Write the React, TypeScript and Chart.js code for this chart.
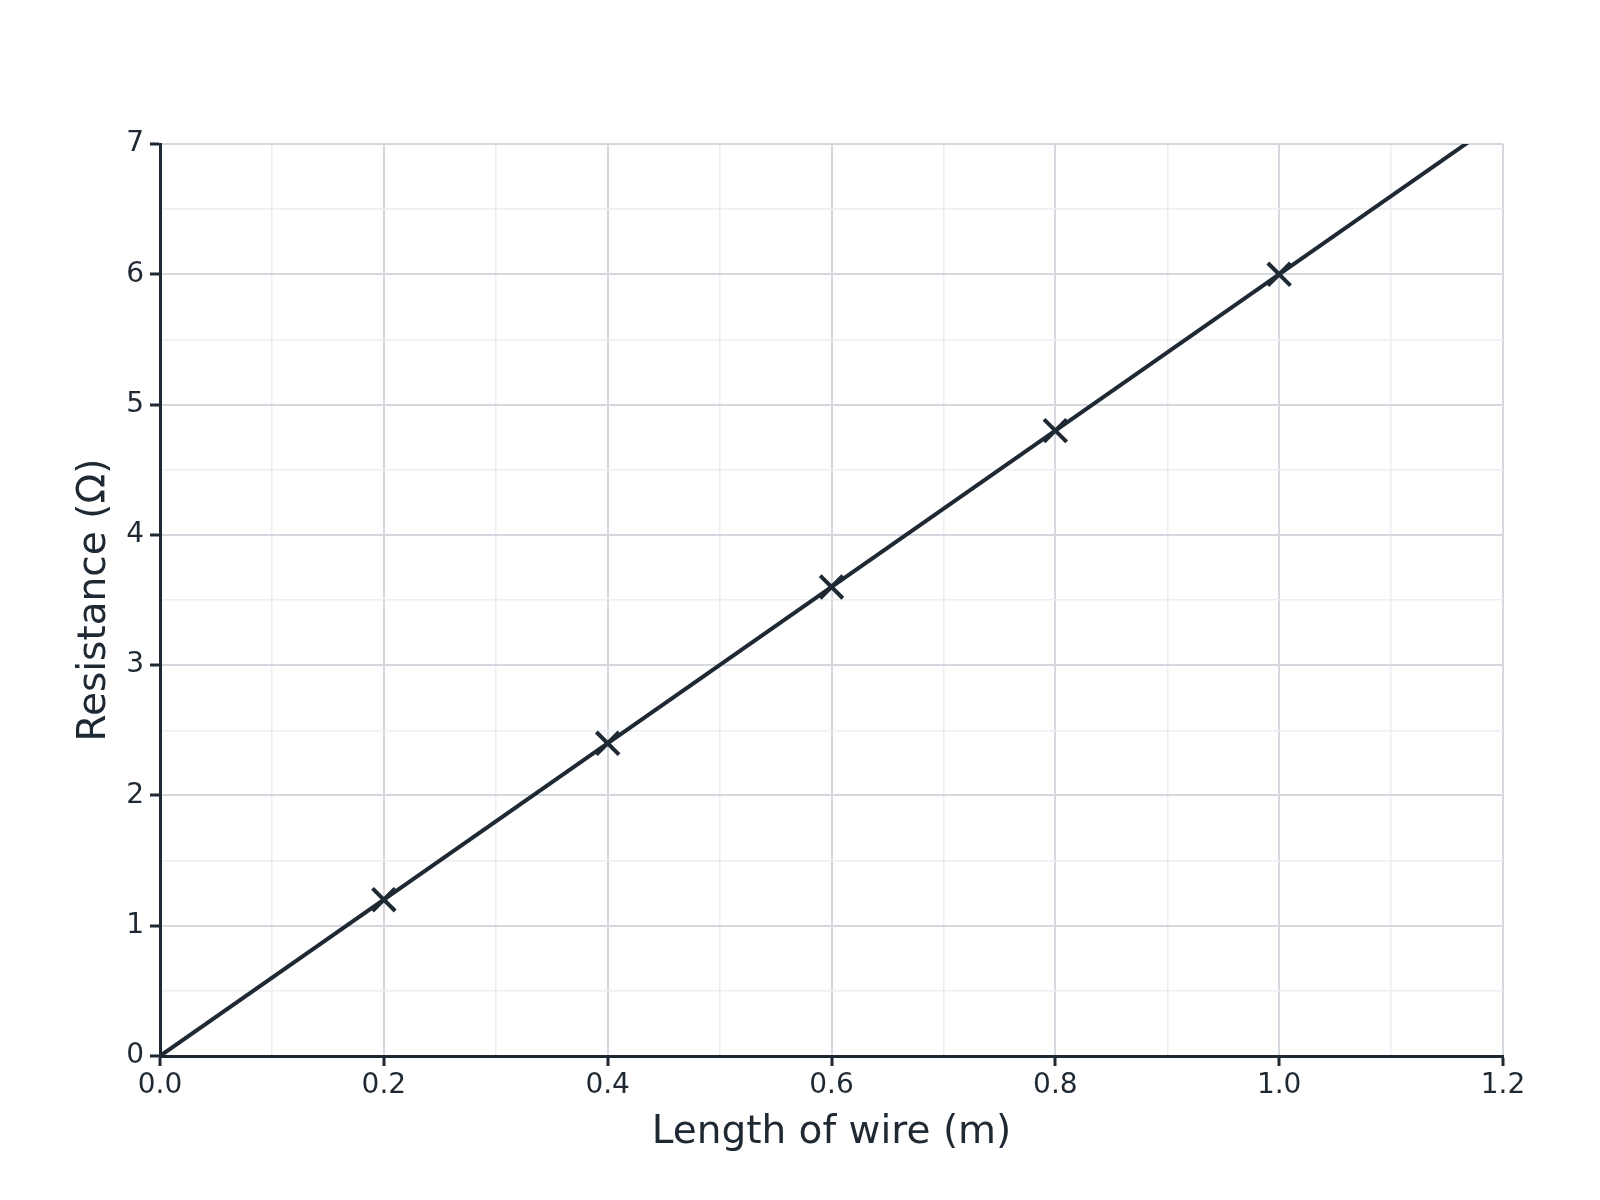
import { useEffect, useRef } from 'react'
import Chart from 'chart.js/auto'

// 전선 길이 vs 저항 — 측정점(X 마커) + 원점 통과 최적 직선

const lengthM     = [0.2, 0.4, 0.6, 0.8, 1.0]
const resistance  = [1.2, 2.4, 3.6, 4.8, 6.0]
const fitX        = [0, 1.2]
const fitY        = [0, 7.2]

const xGrid  = [0, 0.1, 0.2, 0.3, 0.4, 0.5, 0.6, 0.7, 0.8, 0.9, 1.0, 1.1, 1.2]
const xMajor = ['0.0', '0.2', '0.4', '0.6', '0.8', '1.0', '1.2']
const yGrid  = [0, 0.5, 1, 1.5, 2, 2.5, 3, 3.5, 4, 4.5, 5, 5.5, 6, 6.5, 7]
const yMajor = ['0', '1', '2', '3', '4', '5', '6', '7']

const INK   = '#1f2933'
const MAJOR = '#d5d8de'
const MINOR = '#eceef1'
const FONT  = 'DejaVu Sans'

const isMajorX = (v: number) => Math.abs(v * 5 - Math.round(v * 5)) < 1e-6
const isMajorY = (v: number) => Math.abs(v - Math.round(v)) < 1e-6

export default function App() {
  const canvasRef = useRef<HTMLCanvasElement>(null)

  useEffect(() => {
    document.body.style.margin = '0'
    if (!canvasRef.current) return

    const chart = new Chart(canvasRef.current, {
      type: 'scatter',
      data: {
        datasets: [
          {
            type: 'line', label: 'fit',
            data: fitX.map((x, i) => ({ x, y: fitY[i] })),
            borderColor: INK, borderWidth: 4, pointRadius: 0, tension: 0,
            fill: false, clip: 0 as any, order: 2,
          },
          {
            type: 'scatter', label: 'measured',
            data: lengthM.map((x, i) => ({ x, y: resistance[i] })),
            pointStyle: 'crossRot', pointRadius: 16, pointBorderWidth: 4,
            borderColor: INK, backgroundColor: INK, order: 1,
          },
        ] as any,
      },
      options: {
        responsive: true, maintainAspectRatio: false, animation: false,
        layout: { padding: { top: 144, right: 97, left: 0, bottom: 0 } },
        plugins: { legend: { display: false }, tooltip: { enabled: false } },
        scales: {
          x: {
            type: 'linear', min: 0, max: 1.2,
            afterFit: (s: any) => { s.height = 144 },
            afterBuildTicks: (s: any) => { s.ticks = xGrid.map(value => ({ value })) },
            grid: {
              color: (c: any) => (isMajorX(c.tick.value) ? MAJOR : MINOR),
              lineWidth: (c: any) => (isMajorX(c.tick.value) ? 2 : 1.5),
              tickColor: (c: any) => (isMajorX(c.tick.value) ? INK : 'rgba(0,0,0,0)'),
              tickLength: 10, tickWidth: 3,
            },
            border: { display: true, color: INK, width: 3 },
            ticks: {
              autoSkip: false, maxRotation: 0, padding: 3, color: INK,
              font: { family: FONT, size: 28 },
              callback: (v: any) => (isMajorX(v) ? xMajor[Math.round(v * 5)] : ''),
            },
            title: {
              display: true, text: 'Length of wire (m)', color: INK,
              font: { family: FONT, size: 39, lineHeight: 1 },
              padding: { top: 0, bottom: 48 },
            },
          },
          y: {
            type: 'linear', min: 0, max: 7,
            afterFit: (s: any) => { s.width = 160 },
            afterBuildTicks: (s: any) => { s.ticks = yGrid.map(value => ({ value })) },
            grid: {
              color: (c: any) => (isMajorY(c.tick.value) ? MAJOR : MINOR),
              lineWidth: (c: any) => (isMajorY(c.tick.value) ? 2 : 1.5),
              tickColor: (c: any) => (isMajorY(c.tick.value) ? INK : 'rgba(0,0,0,0)'),
              tickLength: 10, tickWidth: 3,
            },
            border: { display: true, color: INK, width: 3 },
            ticks: {
              autoSkip: false, padding: 6, color: INK,
              font: { family: FONT, size: 28 },
              callback: (v: any) => (isMajorY(v) ? yMajor[Math.round(v)] : ''),
            },
            title: {
              display: true, text: 'Resistance (Ω)', color: INK,
              font: { family: FONT, size: 39, lineHeight: 1 },
              padding: { top: 75, bottom: 0 },
            },
          },
        },
      } as any,
    })

    return () => { chart.destroy() }
  }, [])

  return (
    <div style={{ width: 1600, height: 1200, background: '#fff' }}>
      <canvas ref={canvasRef} />
    </div>
  )
}
